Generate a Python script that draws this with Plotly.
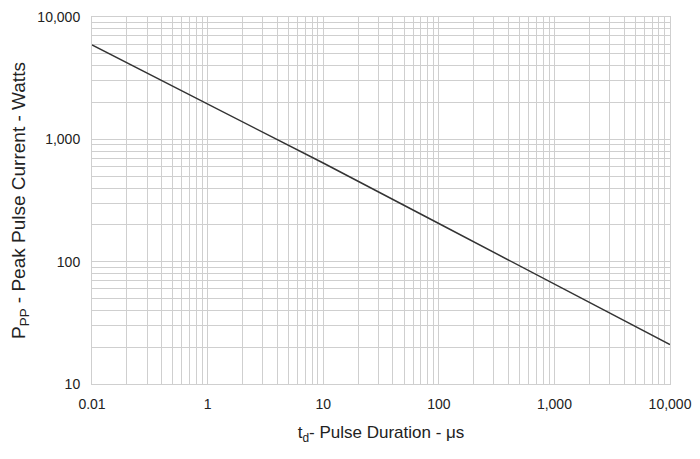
import plotly.graph_objects as go

# Pulse duration (us) and peak pulse power (W)
pulse_us = [0.1, 1, 10, 100, 1000, 10000]
power_w = [5900, 1950, 640, 205, 66, 21]

# Axis tick labels as printed on the chart
x_decades = [0.1, 1, 10, 100, 1000, 10000]
x_labels = ["0.01", "1", "10", "100", "1,000", "10,000"]
y_decades = [10, 100, 1000, 10000]
y_labels = ["10", "100", "1,000", "10,000"]


def grid_vals(decades, labels):
    vals, texts = [], []
    for d, lab in zip(decades, labels):
        vals.append(d)
        texts.append(lab)
        if d != decades[-1]:
            for k in range(2, 10):
                vals.append(d * k)
                texts.append("")
    return vals, texts


xv, xt = grid_vals(x_decades, x_labels)
yv, yt = grid_vals(y_decades, y_labels)

fig = go.Figure()
fig.add_trace(go.Scatter(x=pulse_us, y=power_w, mode="lines",
                         line=dict(color="#333333", width=1.5),
                         showlegend=False, hoverinfo="skip"))

grid_col = "#cfcfcf"
font = dict(family="Liberation Sans, Arial, sans-serif", size=14, color="#222222")

fig.update_layout(
    width=700, height=459,
    margin=dict(l=84, r=38, t=9, b=83, autoexpand=False),
    paper_bgcolor="white", plot_bgcolor="white",
    font=font,
    xaxis=dict(type="log", range=[-1, 4], tickmode="array", tickvals=xv, ticktext=xt,
               showgrid=True, gridcolor=grid_col, gridwidth=1,
               showline=True, linecolor=grid_col, mirror=True, ticks="",
               zeroline=False, ticklabelstandoff=7, automargin=False,
               ticklabeloverflow="allow",
               title=dict(text="t<sub>d</sub>- Pulse Duration - μs", font=dict(size=17, color="#222222"),
                          standoff=15)),
    yaxis=dict(type="log", range=[1, 4], tickmode="array", tickvals=yv, ticktext=yt,
               showgrid=True, gridcolor=grid_col, gridwidth=1,
               showline=True, linecolor=grid_col, mirror=True, ticks="",
               zeroline=False, ticklabelstandoff=8, automargin=False,
               ticklabeloverflow="allow",
               title=dict(text="P<sub>PP</sub> - Peak Pulse Current - Watts", font=dict(size=19, color="#222222"),
                          standoff=14)),
)

fig.write_html("out.html")
